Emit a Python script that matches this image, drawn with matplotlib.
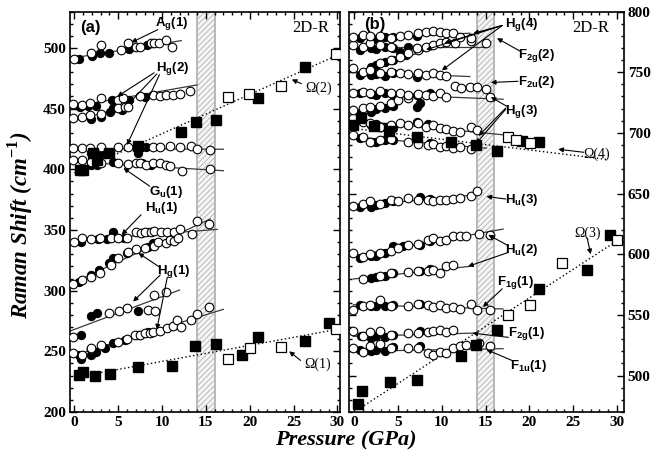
import matplotlib
matplotlib.use("Agg")
import matplotlib.pyplot as plt
from matplotlib.ticker import MultipleLocator

plt.rcParams["font.family"] = ["Liberation Serif", "DejaVu Serif"]
plt.rcParams["font.weight"] = "bold"
plt.rcParams["mathtext.fontset"] = "custom"
plt.rcParams["mathtext.rm"] = "Liberation Serif:bold"
plt.rcParams["mathtext.bf"] = "Liberation Serif:bold"
plt.rcParams["mathtext.sf"] = "Liberation Sans:bold"
plt.rcParams["hatch.linewidth"] = 0.6

# ---------------- panel (a): 200-530 cm-1 ----------------
ag1_open = [(-0.1, 490.7), (1.9, 496), (3.0, 502), (5.3, 498), (6.1, 503.7), (7.0, 501), (7.5, 501),
            (8.7, 503.7), (9.1, 504.3), (9.7, 504.3), (10.5, 506.7), (11.1, 501)]
ag1_fill = [(0.5, 491), (2.0, 493), (2.9, 496), (3.9, 496), (6.2, 499), (8.3, 502.7)]
ag1_fit = [(-0.4, 491.5), (12.2, 506)]

hg2a_open = [(-0.15, 453.8), (0.9, 453), (1.8, 454.4), (3.0, 458.5), (5.0, 457), (5.5, 458.5), (7.5, 460),
             (9.0, 461.3), (9.8, 460.7), (10.5, 461.3), (11.2, 461.3), (12.0, 462.1), (13.2, 464.8)]
hg2a_fill = [(0.6, 451.1), (1.6, 452.2), (2.5, 452.2), (4.3, 457.1), (5.9, 457.1), (6.2, 457.1), (8.1, 459.9)]
hg2a_fit = [(-0.3, 451.5), (14.0, 469.5)]

hg2b_open = [(-0.15, 442.0), (0.9, 442.9), (1.8, 444.8), (3.0, 445.6), (5.0, 450.3), (5.8, 451.1), (6.15, 451.6)]
hg2b_fill = [(1.95, 441.2), (3.0, 442.9), (4.05, 447.5), (4.4, 450.3), (5.4, 448.9)]
hg2b_fit = [(-0.3, 439.5), (6.5, 452.5)]

hg2c_open = [(-0.15, 417.3), (0.9, 417.3), (1.8, 417.3), (3.0, 418.6), (5.0, 418.6), (6.15, 418.6),
             (7.5, 419.2), (9.0, 418.6), (9.8, 418.6), (10.9, 419.2), (12.1, 418.1), (13.3, 419.2),
             (14.0, 416.7), (15.5, 415.9)]
hg2c_fill = [(1.95, 413.7), (2.4, 412.6), (3.0, 412.6), (4.05, 413.2), (7.2, 413.7), (8.2, 418.6)]
hg2c_fit = [(-0.3, 417.0), (17.0, 416.5)]

gu1_open = [(-0.15, 407.7), (0.92, 407.7), (1.95, 406.3), (3.0, 404.9), (5.0, 404.9), (6.15, 404.4),
            (7.0, 404.9), (7.5, 404.9), (8.2, 403.5), (9.0, 404.9), (9.8, 404.9), (10.5, 403.5),
            (10.9, 402.7), (12.3, 398.8), (15.5, 399.9)]
gu1_fill = [(1.95, 403.5), (2.6, 403.5), (4.4, 406.3), (7.7, 404.9), (8.75, 403.5)]
gu1_fit = [(-0.3, 406.3), (17.0, 398.8)]

hu1_open = [(-0.07, 339.8), (0.85, 343.6), (1.84, 342.5), (2.87, 343.1), (4.2, 343.1), (4.97, 343.1),
            (6.04, 343.6), (7.07, 348.1), (7.64, 347.2), (8.1, 348.6), (8.7, 348.6), (9.1, 349.1),
            (9.9, 348.1), (10.6, 348.6), (11.4, 348.6), (12.0, 350.8), (13.4, 346.4), (14.0, 357.6),
            (15.4, 354.9)]
hu1_fill = [(0.7, 339.8), (2.68, 342.5), (3.75, 342.5), (4.4, 348.1), (5.7, 343.1), (8.4, 348.6)]
hu1_fit = [(-0.3, 341.0), (16.3, 350.5)]

hg1a_open = [(-0.18, 305.2), (0.85, 308.7), (1.84, 311.5), (2.87, 314.2), (4.2, 321.1), (4.97, 326.6),
             (6.1, 332.1), (7.07, 334.3), (8.1, 334.9), (9.1, 337.0), (9.55, 340.3), (10.5, 339.0),
             (10.9, 341.7), (11.4, 340.9), (11.85, 343.1)]
hg1a_fill = [(0.58, 307.4), (1.91, 312.9), (2.76, 317.0), (3.9, 322.5), (4.4, 326.6), (6.04, 330.8),
             (8.45, 336.2), (9.0, 339.0)]
hg1a_fit = [(-0.3, 306.0), (15.5, 359.0)]

hg1b_open = [(-0.15, 261.5), (4.0, 281.3), (5.05, 283.2), (6.04, 285.4), (8.4, 284.0), (9.2, 283.2),
             (9.1, 296.4), (10.5, 299.1)]
hg1b_fill = [(0.8, 263.4), (1.9, 279.3), (2.6, 281.3), (7.3, 283.2)]
hg1b_fit = [(-0.75, 266.0), (12.0, 300.5)]

hg1c_open = [(-0.15, 248.8), (0.85, 246.9), (1.84, 251.6), (1.9, 252.4), (3.0, 255.2), (5.0, 257.9),
             (5.97, 259.8), (6.9, 263.4), (7.5, 263.4), (8.06, 264.8), (8.6, 264.8), (9.0, 266.1),
             (9.8, 266.9), (10.6, 268.9), (11.3, 270.8), (11.7, 275.8), (12.15, 270.2), (13.3, 275.8),
             (14.0, 280.7), (15.4, 286.2)]
hg1c_fill = [(0.5, 246.6), (0.8, 243.4), (1.95, 247.0), (2.45, 249.6), (3.5, 252.4), (4.4, 257.1),
             (5.8, 259.3), (7.3, 263.4), (8.4, 266.1)]
hg1c_fit = [(-0.33, 246.0), (17.0, 284.6)]

om1_fill = [(0.5, 230.4), (0.97, 233), (2.4, 230), (4.1, 231.3), (7.2, 237.3), (11.1, 237.6), (13.8, 254.6),
            (16.1, 256), (19.1, 247), (20.9, 261.5), (26.3, 258.5), (29.0, 273.5)]
om1_open = [(17.5, 243.4), (20.0, 253), (23.6, 253.7), (29.8, 268.3)]
om1_fit = [(0.0, 228.5), (30.3, 268.5)]

om2_fill = [(0.6, 399), (1.0, 399), (2.1, 413), (2.6, 408), (4.0, 413), (7.2, 419), (12.2, 430.5),
            (13.9, 439), (16.2, 441), (21.0, 458.5), (26.3, 484)]
om2_open = [(17.5, 459.6), (19.9, 462), (23.6, 468.4), (29.8, 494.8)]
om2_fit = [(0.0, 397.0), (30.3, 495.0)]

# ---------------- panel (b): 470-800 cm-1 ----------------
f1u1_open = [(-0.09, 522.8), (0.98, 519.2), (1.8, 524.1), (2.9, 526.3), (4.2, 522.8), (6.13, 522.8),
             (7.28, 522.8), (8.42, 518.7), (9.0, 517.3), (9.76, 519.2), (10.5, 518.7), (11.3, 522.8),
             (12.1, 524.7), (12.8, 525.5), (14.3, 526.9), (15.5, 524.7)]
f1u1_fill = [(0.67, 520.8), (1.9, 520), (2.5, 520.8), (3.5, 520), (4.4, 523.6), (7.47, 524.1)]
f1u1_fit = [(-0.1, 520.0), (17.0, 522.2)]

f2g1_open = [(-0.09, 536.5), (0.98, 532.3), (1.8, 535.6), (2.9, 536.5), (4.2, 533.7), (6.13, 535.0),
             (7.28, 535.0), (8.42, 535.6), (9.0, 536.5), (9.76, 537.9), (10.5, 535.6), (11.3, 537.3)]
f2g1_fill = [(0.75, 532.3), (1.9, 531.0), (2.5, 532.3), (3.5, 531.8), (4.4, 533.7), (7.47, 536.5)]
f2g1_fit = [(-0.1, 532.3), (13.6, 535.0)]

f1g1_open = [(-0.09, 554.3), (0.98, 557.5), (1.8, 558.4), (2.9, 562.0), (4.2, 557.0), (6.13, 557.5),
             (7.28, 559.3), (8.42, 558.4), (9.0, 556.5), (9.76, 558.4), (10.5, 555.7), (11.3, 556.5),
             (12.1, 554.9), (13.3, 559.3), (14.0, 553.8), (15.5, 553.8)]
f1g1_fill = [(0.67, 558.4), (1.9, 557.5), (2.5, 557.5), (3.5, 557.5), (4.4, 558.4), (7.47, 559.3)]
f1g1_fit = [(-0.1, 558.4), (17.0, 554.9)]

hu2a_open = [(0.98, 579.6), (2.9, 581.7), (4.2, 584.5), (6.13, 585.0), (7.28, 585.9), (8.42, 585.9),
             (9.0, 586.7), (9.76, 584.5), (10.5, 590.0), (11.3, 591.4)]
hu2a_fill = [(1.9, 580.4), (2.5, 581.2), (3.5, 581.7), (4.4, 584.5), (7.47, 585.9), (8.61, 587.8)]
hu2a_fit = [(-0.1, 579.6), (13.2, 590.0)]

hu2b_open = [(-0.09, 601.0), (0.98, 597.7), (1.8, 600.2), (2.9, 601.0), (4.2, 602.3), (4.98, 605.1),
             (6.13, 607.8), (7.28, 608.6), (8.42, 611.9), (9.0, 613.3), (9.76, 610.5), (10.5, 611.9),
             (11.3, 614.7), (12.1, 615.2), (12.8, 615.2), (14.3, 616.9), (15.5, 616.0)]
hu2b_fill = [(0.67, 596.8), (1.9, 598.2), (2.5, 598.7), (3.5, 601.0), (4.4, 606.4), (5.56, 606.4),
             (7.47, 607.8), (8.61, 610.5)]
hu2b_fit = [(-0.1, 598.6), (17.0, 620.7)]

hu3_open = [(-0.09, 639.9), (0.98, 641.6), (1.8, 643.5), (2.9, 641.6), (4.2, 644.9), (4.98, 643.5),
            (6.13, 646.3), (7.28, 644.9), (8.42, 644.9), (9.0, 643.5), (9.76, 644.3), (10.5, 644.9),
            (11.3, 645.4), (12.1, 646.3), (13.3, 647.6), (14.0, 651.7)]
hu3_fill = [(0.67, 639.3), (1.9, 639.3), (2.5, 640.7), (3.5, 642.1), (4.4, 643.5), (7.47, 647.1), (8.61, 645.4)]
hu3_fit = [(-0.6, 639.3), (14.0, 649.0)]

hg3a_open = [(-0.09, 698.4), (0.98, 697.0), (1.8, 692.8), (2.9, 694.2), (4.2, 694.8), (6.13, 692.8),
             (7.28, 690.9), (8.42, 690.1), (9.0, 690.9), (9.76, 688.7), (10.5, 689.3), (11.3, 687.4),
             (12.1, 688.7), (13.3, 686.6)]
hg3a_fill = [(0.67, 695.6), (1.9, 692.8), (2.5, 692.8), (3.5, 694.2), (4.4, 694.2), (7.16, 697.0), (8.61, 691.5)]
hg3a_fit = [(-0.6, 697.0), (15.1, 687.4)]

hg3b_open = [(-0.09, 712.1), (0.98, 709.3), (1.8, 708.0), (2.9, 705.2), (4.2, 706.6), (5.18, 708.0),
             (6.13, 706.6), (7.28, 708.5), (8.16, 705.2), (9.0, 706.6), (9.76, 703.9), (10.5, 703.0),
             (11.3, 701.9), (12.1, 701.1), (13.3, 705.2), (14.0, 702.5)]
hg3b_fill = [(0.67, 710.2), (1.9, 706.6), (2.5, 707.4), (3.5, 704.7), (4.4, 703.9), (7.16, 709.3), (8.42, 707.4)]
hg3b_fit = [(-0.6, 710.7), (17.0, 698.4)]

hg3c_open = [(-0.09, 718.9), (0.98, 720.3), (1.8, 721.6), (2.9, 722.2), (4.2, 724.4), (4.98, 727.2), (6.13, 728.6)]
hg3c_fill = [(0.67, 716.5), (1.9, 717.5), (2.5, 719.5), (3.5, 720.3), (4.4, 722.2), (7.16, 721.6), (7.47, 724.4)]

hg3d_open = [(-0.09, 732.7), (0.98, 734.0), (1.8, 733.2), (2.9, 734.8), (4.2, 732.7), (5.18, 733.2),
             (6.13, 731.3), (7.28, 732.2), (8.16, 731.3), (9.0, 730.5), (9.76, 733.2), (10.5, 729.9),
             (15.5, 729.6)]
hg3d_fill = [(0.67, 733.2), (1.9, 732.2), (2.5, 731.3), (3.5, 732.7), (4.4, 731.3), (7.16, 731.3), (8.61, 732.7)]
hg3d_fit = [(-0.6, 732.7), (17.0, 727.7)]

f2u2_open = [(11.5, 738.7), (12.2, 736.8), (13.2, 737.6), (14.0, 737.6), (15.1, 736.0)]

f2g2_open = [(-0.09, 753.2), (0.98, 750.5), (1.8, 751.9), (2.9, 749.6), (4.2, 750.5), (5.18, 749.6),
             (6.13, 748.6), (7.28, 749.1), (8.16, 747.7), (9.0, 749.1), (9.76, 747.7), (10.5, 746.9)]
f2g2_fill = [(0.67, 747.7), (1.9, 747.7), (2.5, 748.6), (3.5, 746.9), (4.4, 749.1), (7.16, 746.3)]
f2g2_fit = [(-0.6, 750.5), (13.2, 746.4)]

hg4a_open = [(2.9, 757.3), (4.2, 760.1), (5.18, 762.8), (6.13, 765.6), (7.28, 768.3), (8.16, 771.0),
             (9.0, 772.4), (9.76, 773.8), (10.5, 775.1), (11.5, 773.8), (13.3, 776.0), (15.1, 773.8)]
hg4a_fill = [(1.9, 754.6), (2.5, 756.0), (3.5, 758.7), (4.4, 760.1), (5.94, 764.2), (7.16, 769.7)]
hg4a_fit = [(1.0, 752.0), (12.5, 777.0)]

hg4b_open = [(-0.09, 772.4), (0.98, 771.0), (1.8, 773.8), (2.9, 772.4), (4.2, 771.0), (7.16, 769.7)]
hg4b_fill = [(0.67, 768.3), (1.9, 769.7), (2.5, 768.9), (3.5, 770.5), (4.4, 769.7), (5.18, 766.9), (6.13, 771.0)]
hg4b_fit = [(-0.6, 771.0), (15.0, 771.0)]

hg4c_open = [(-0.09, 778.8), (0.98, 780.7), (1.8, 779.8), (2.9, 779.8), (4.2, 778.0), (5.18, 779.8),
             (6.13, 780.7), (7.28, 782.1), (8.16, 783.4), (9.0, 784.2), (9.76, 783.4), (10.5, 782.1),
             (11.3, 782.6), (12.1, 779.3), (13.3, 778.0)]
hg4c_fill = [(0.67, 778.0), (1.9, 778.8), (2.5, 777.1), (3.5, 779.3), (4.4, 779.3), (7.16, 779.8)]
hg4c_fit = [(-0.6, 777.1), (13.2, 782.1)]

om3_fill = [(0.4, 477), (0.9, 487.1), (4.1, 494.8), (7.2, 496.7), (12.2, 515.9), (13.9, 525.3),
            (16.25, 537.9), (21.1, 571.4), (26.6, 587.2), (29.2, 616.0)]
om3_open = [(17.6, 549.6), (20.1, 558.4), (23.7, 592.8), (30.0, 611.4)]
om3_fit = [(0.0, 470.0), (30.2, 612.0)]

om4_fill = [(-0.2, 706.6), (0.8, 712.1), (2.3, 705.8), (4.0, 701.9), (7.2, 696.5), (11.1, 692.8),
            (13.9, 690.1), (16.3, 685.4), (19.2, 693.7), (21.1, 692.8)]
om4_open = [(17.6, 697.0), (18.5, 694.2), (20.1, 691.5)]
om4_fit = [(-0.5, 704.0), (29.0, 678.0)]


def xy(pts):
    return [p[0] for p in pts], [p[1] for p in pts]


def circles(ax, opn, fil, fit=None):
    if fit is not None:
        ax.plot(*xy(fit), color="#3a3a3a", lw=0.9, zorder=2)
    ax.plot(*xy(fil), "o", ms=6.0, mfc="black", mec="black", mew=0.7, ls="none", zorder=3)
    ax.plot(*xy(opn), "o", ms=6.2, mfc="white", mec="black", mew=0.8, ls="none", zorder=4)


def squares(ax, fil, opn, fit):
    ax.plot(*xy(fit), color="black", lw=1.0, ls=(0, (1, 1.8)), zorder=2)
    ax.plot(*xy(fil), "s", ms=6.6, mfc="black", mec="black", ls="none", zorder=5)
    ax.plot(*xy(opn), "s", ms=6.6, mfc="white", mec="black", mew=0.9, ls="none", zorder=5)


def arrow(ax, tail, head):
    ax.annotate("", xy=head, xytext=tail,
                arrowprops=dict(arrowstyle="-|>", color="black", lw=0.8, mutation_scale=7,
                                shrinkA=0, shrinkB=0), zorder=6)


def mode(ax, x, y, name, sub, idx):
    ax.text(x, y, name + r"$_\mathsf{" + sub + "}$(" + idx + ")", family="Liberation Sans",
            weight="bold", fontsize=9.5, ha="center", va="center", zorder=7)


def omega(ax, x, y, idx):
    ax.text(x, y, "\u03a9(" + idx + ")", fontsize=10, weight="normal", ha="center", va="center", zorder=7)


def frame(ax, ylim, xlim):
    ax.set_xlim(*xlim)
    ax.set_ylim(*ylim)
    ax.xaxis.set_major_locator(MultipleLocator(5))
    ax.xaxis.set_minor_locator(MultipleLocator(1))
    ax.yaxis.set_major_locator(MultipleLocator(50))
    ax.yaxis.set_minor_locator(MultipleLocator(10))
    ax.tick_params(which="both", direction="in", top=True, bottom=True, left=True, right=True,
                   labelsize=11, width=1.0, pad=3)
    ax.tick_params(which="major", length=5)
    ax.tick_params(which="minor", length=2.5)
    for s in ax.spines.values():
        s.set_linewidth(1.2)
    ax.axvspan(14, 16, facecolor="#f5f5f5", edgecolor="#b0b0b0", hatch="//////", lw=0, zorder=0.5)
    for xv in (14, 16):
        ax.axvline(xv, color="#b8b8b8", lw=1.4, zorder=0.6)
    ax.text(27.0, ylim[1] - 14, "2D-R", fontsize=12, weight="normal", ha="center", va="center")


fig = plt.figure(figsize=(6.68, 4.59), dpi=100)
ax1 = fig.add_axes([70 / 668, 47 / 459, 270 / 668, 400.5 / 459])
ax2 = fig.add_axes([349 / 668, 47 / 459, 274.5 / 668, 400.5 / 459])

# panel (a)
frame(ax1, (200, 530), (-0.5, 30.3))
circles(ax1, ag1_open, ag1_fill, ag1_fit)
circles(ax1, hg2a_open, hg2a_fill, hg2a_fit)
circles(ax1, hg2b_open, hg2b_fill, hg2b_fit)
circles(ax1, hg2c_open, hg2c_fill, hg2c_fit)
circles(ax1, gu1_open, gu1_fill, gu1_fit)
circles(ax1, hu1_open, hu1_fill, hu1_fit)
circles(ax1, hg1a_open, hg1a_fill, hg1a_fit)
circles(ax1, hg1b_open, hg1b_fill, hg1b_fit)
circles(ax1, hg1c_open, hg1c_fill, hg1c_fit)
squares(ax1, om1_fill, om1_open, om1_fit)
squares(ax1, om2_fill, om2_open, om2_fit)

ax1.text(0.7, 517, "(a)", family="Liberation Sans", weight="bold", fontsize=12, ha="left", va="center")
mode(ax1, 11.1, 520, "A", "g", "1")
arrow(ax1, (9.5, 515), (6.5, 504.5))
mode(ax1, 11.2, 483, "H", "g", "2")
arrow(ax1, (9.1, 479.5), (4.9, 460))
arrow(ax1, (9.4, 478.5), (6.2, 454))
arrow(ax1, (9.7, 478), (6.0, 420))
mode(ax1, 10.5, 381.5, "G", "u", "1")
arrow(ax1, (8.6, 386), (5.6, 401))
mode(ax1, 10.0, 368, "H", "u", "1")
arrow(ax1, (7.6, 362.5), (5.4, 346))
mode(ax1, 11.3, 316, "H", "g", "1")
arrow(ax1, (9.8, 319), (7.3, 331))
arrow(ax1, (9.8, 313), (6.7, 291))
arrow(ax1, (10.6, 311), (9.4, 268))
omega(ax1, 27.7, 239, "1")
arrow(ax1, (25.8, 242.5), (24.5, 250))
omega(ax1, 27.9, 467, "2")
arrow(ax1, (25.9, 470.5), (24.8, 474))

# panel (b)
frame(ax2, (470, 800), (-0.6, 30.75))
ax2.yaxis.tick_right()
ax2.tick_params(which="both", left=True, right=True, labelleft=False, labelright=True)
circles(ax2, f1u1_open, f1u1_fill, f1u1_fit)
circles(ax2, f2g1_open, f2g1_fill, f2g1_fit)
circles(ax2, f1g1_open, f1g1_fill, f1g1_fit)
circles(ax2, hu2a_open, hu2a_fill, hu2a_fit)
circles(ax2, hu2b_open, hu2b_fill, hu2b_fit)
circles(ax2, hu3_open, hu3_fill, hu3_fit)
circles(ax2, hg3a_open, hg3a_fill, hg3a_fit)
circles(ax2, hg3b_open, hg3b_fill, hg3b_fit)
circles(ax2, hg3c_open, hg3c_fill)
circles(ax2, hg3d_open, hg3d_fill, hg3d_fit)
circles(ax2, f2u2_open, [])
circles(ax2, f2g2_open, f2g2_fill, f2g2_fit)
circles(ax2, hg4a_open, hg4a_fill, hg4a_fit)
circles(ax2, hg4b_open, hg4b_fill, hg4b_fit)
circles(ax2, hg4c_open, hg4c_fill, hg4c_fit)
squares(ax2, om3_fill, om3_open, om3_fit)
squares(ax2, om4_fill, om4_open, om4_fit)

ax2.text(1.1, 789, "(b)", family="Liberation Sans", weight="bold", fontsize=12, ha="left", va="center")
mode(ax2, 19.1, 789, "H", "g", "4")
for head in [(13.6, 782), (10.3, 774), (8.2, 768.5), (10.0, 751.5)]:
    arrow(ax2, (16.9, 788.5), head)
mode(ax2, 20.8, 763.4, "F", "2g", "2")
arrow(ax2, (18.9, 767.5), (16.3, 778))
mode(ax2, 20.8, 742.2, "F", "2u", "2")
arrow(ax2, (18.7, 742.5), (15.6, 741.5))
mode(ax2, 19.1, 717.5, "H", "g", "3")
arrow(ax2, (17.4, 722), (15.6, 729.5))
arrow(ax2, (17.3, 720.5), (14.2, 697.5))
arrow(ax2, (17.3, 719.5), (13.9, 691))
omega(ax2, 27.7, 682, "4")
arrow(ax2, (26.2, 684), (23.3, 686.5))
mode(ax2, 19.1, 645, "H", "u", "3")
arrow(ax2, (17.3, 645.5), (15.1, 647.6))
omega(ax2, 26.6, 617.5, "3")
arrow(ax2, (26.6, 613.5), (27.0, 600))
mode(ax2, 19.1, 603.7, "H", "u", "2")
arrow(ax2, (17.6, 607), (15.3, 616))
arrow(ax2, (17.6, 601.5), (13.0, 590))
mode(ax2, 18.4, 576.3, "F", "1g", "1")
arrow(ax2, (16.9, 571.5), (14.7, 556.5))
mode(ax2, 19.7, 535, "F", "2g", "1")
arrow(ax2, (17.6, 531.5), (13.5, 535))
mode(ax2, 19.9, 507.7, "F", "1u", "1")
arrow(ax2, (18.0, 512.5), (15.1, 521.4))

fig.text(20 / 668, 1 - 225 / 459, r"Raman Shift (cm$^{\mathbf{-1}}$)", rotation=90, ha="center", va="center",
         fontsize=16.5, weight="bold", style="italic")
fig.text(346 / 668, 1 - 440 / 459, "Pressure (GPa)", ha="center", va="center",
         fontsize=16, weight="bold", style="italic")

fig.savefig("out.png", dpi=100)
